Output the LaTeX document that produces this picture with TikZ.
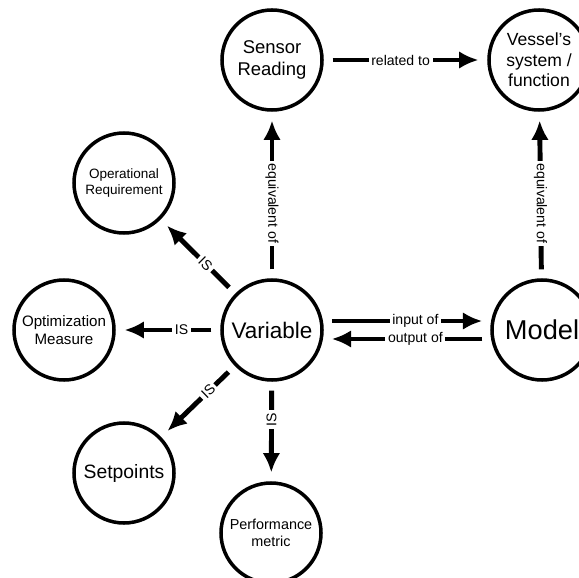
\documentclass[tikz,border=0pt]{standalone}
\usepackage{fontspec}
\setmainfont{Liberation Sans}
\usetikzlibrary{arrows.meta, positioning}
\tikzset{
  concept/.style={circle, draw, line width=2pt, minimum size=2cm, inner sep=0pt, align=center},
  rel/.style={draw, -{Latex[length=11pt,width=10pt]}, line width=2.8pt, shorten <=5pt, shorten >=5pt},
  lbl/.style={fill=white, inner sep=1.5pt, font=\fontsize{8}{9.6}\selectfont},
}

\begin{document}
\begin{tikzpicture}[node distance=5.4cm]
		\useasboundingbox (0,0) rectangle (11.58,11.54);

		% concepts
		\node[concept, font=\fontsize{12.8}{15}\selectfont] (var) at (5.44,4.94) {Variable};
		\node[concept, font=\fontsize{10.5}{12.5}\selectfont, above of=var] (sensor) {Sensor\\Reading};
		\node[concept, font=\fontsize{15.5}{18}\selectfont, right of=var] (model) {Model};
		\node[concept, font=\fontsize{10}{11.6}\selectfont, above of=model, xshift=-0.06cm] (vessel) {Vessel's\\system /\\function};
		\node[concept, font=\fontsize{8.6}{10.4}\selectfont, left of=var, node distance=4.16cm] (optim) {Optimization\\Measure};
		\node[concept, font=\fontsize{7.7}{9.4}\selectfont] (opreq) at (2.48,7.88) {Operational\\Requirement};
		\node[concept, font=\fontsize{11}{13}\selectfont] (setp) at (2.48,2.08) {Setpoints};
		\node[concept, font=\fontsize{8.2}{9.8}\selectfont] (perf) at (5.42,0.88) {Performance\\metric};

		% relations
		\path (var) edge[rel] node[lbl, pos=0.45, rotate=-90] {equivalent of} (sensor)
		(model) edge[rel] node[lbl, pos=0.45, rotate=-90] {equivalent of} (vessel)
		(sensor) edge[rel] node[lbl, pos=0.47] {related to} (vessel)
		(var) edge[rel] node[lbl, pos=0.4, sloped] {IS} (opreq)
		(var) edge[rel] node[lbl, pos=0.37] {IS} (optim)
		(var) edge[rel] node[lbl, pos=0.36, sloped] {IS} (setp)
		(var) edge[rel] node[lbl, pos=0.38, rotate=90] {IS} (perf)
		(var.10) edge[rel] node[lbl, pos=0.55] {input of} (model.170)
		(model.190) edge[rel] node[lbl, pos=0.45] {output of} (var.350);

	\end{tikzpicture}
\end{document}
